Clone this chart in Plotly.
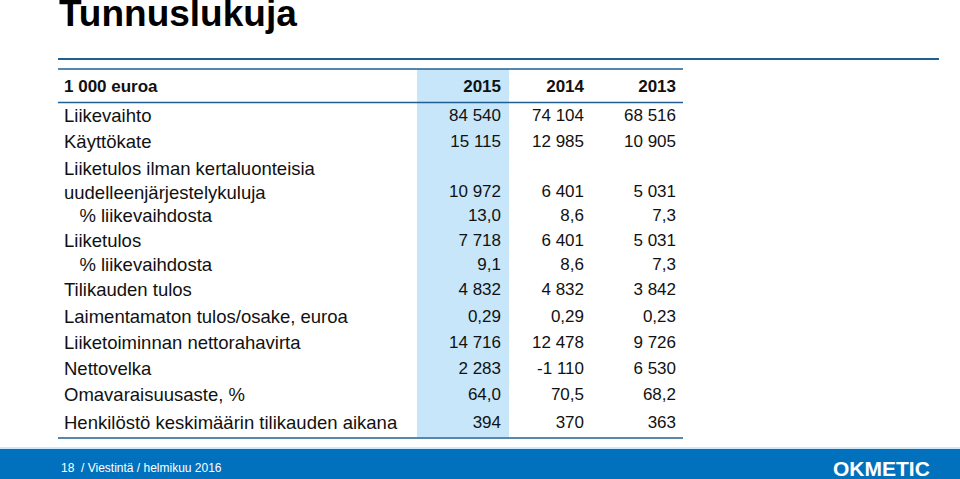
"""Key figures table slide (Tunnuslukuja) drawn with Plotly."""

import plotly.graph_objects as go

title = "Tunnuslukuja"
unit_label = "1 000 euroa"
years = ["2015", "2014", "2013"]

row_labels = [
    "Liikevaihto",
    "Käyttökate",
    "Liiketulos ilman kertaluonteisia<br>uudelleenjärjestelykuluja",
    "   % liikevaihdosta",
    "Liiketulos",
    "   % liikevaihdosta",
    "Tilikauden tulos",
    "Laimentamaton tulos/osake, euroa",
    "Liiketoiminnan nettorahavirta",
    "Nettovelka",
    "Omavaraisuusaste, %",
    "Henkilöstö keskimäärin tilikauden aikana",
]
values_2015 = ["84 540", "15 115", "10 972", "13,0", "7 718", "9,1", "4 832",
               "0,29", "14 716", "2 283", "64,0", "394"]
values_2014 = ["74 104", "12 985", "6 401", "8,6", "6 401", "8,6", "4 832",
               "0,29", "12 478", "-1 110", "70,5", "370"]
values_2013 = ["68 516", "10 905", "5 031", "7,3", "5 031", "7,3", "3 842",
               "0,23", "9 726", "6 530", "68,2", "363"]
footer = "18  / Viestintä / helmikuu 2016"
logo = "OKMETIC"

# layout (pixel space, y grows downward)
W, H = 960, 479
label_x = 64
col_right = [501, 584, 676]
dy = 2  # plotly sets "middle" text slightly high
header_y = 86 + dy
value_y = [y + dy for y in [115, 141, 191, 215, 240, 264, 289, 316, 342, 368, 394, 422]]
label_y = [y + dy for y in [115, 141, 180.5, 215, 240, 264, 289, 316, 342, 368, 394, 422]]

FONT = "Liberation Sans, Arial, sans-serif"
LINE = "#1f5f91"
HILITE = "#c7e6fa"
BAND = "#0271bd"

fig = go.Figure()

# row labels (the source renders them a bit wider than the numbers)
fig.add_trace(go.Scatter(
    x=[label_x] * len(row_labels), y=label_y, text=row_labels,
    mode="text", textposition="middle right",
    textfont=dict(family=FONT, size=18.5, color="#111111"),
    hoverinfo="skip", showlegend=False,
))

# value columns
for xr, vals in zip(col_right, [values_2015, values_2014, values_2013]):
    fig.add_trace(go.Scatter(
        x=[xr] * len(vals), y=value_y, text=vals,
        mode="text", textposition="middle left",
        textfont=dict(family=FONT, size=17, color="#111111"),
        hoverinfo="skip", showlegend=False,
    ))

# header row
fig.add_trace(go.Scatter(
    x=[label_x] + col_right, y=[header_y] * 4,
    text=[f"<b>{unit_label}</b>"] + [f"<b>{y}</b>" for y in years],
    mode="text",
    textposition=["middle right"] + ["middle left"] * 3,
    textfont=dict(family=FONT, size=17, color="#111111"),
    hoverinfo="skip", showlegend=False,
))

shapes = [
    # highlighted 2015 column
    dict(type="rect", x0=417, x1=509, y0=69, y1=437, fillcolor=HILITE,
         line_width=0, layer="below"),
    # long rule under title
    dict(type="line", x0=58, x1=939, y0=59, y1=59,
         line=dict(color=LINE, width=2)),
    # table rules
    dict(type="line", x0=58, x1=683, y0=69, y1=69,
         line=dict(color=LINE, width=1.5)),
    dict(type="line", x0=58, x1=683, y0=102.5, y1=102.5,
         line=dict(color=LINE, width=1.5)),
    dict(type="line", x0=58, x1=683, y0=438, y1=438,
         line=dict(color=LINE, width=1.5)),
    # footer band
    dict(type="rect", x0=0, x1=W, y0=449, y1=H, fillcolor=BAND,
         line_width=0, layer="below"),
    dict(type="line", x0=0, x1=W, y0=448, y1=448,
         line=dict(color="#9fd2f0", width=1)),
]

annotations = [
    dict(x=57, y=13, text=f"<b>{title}</b>", showarrow=False,
         xanchor="left", yanchor="middle",
         font=dict(family=FONT, size=37, color="#000000")),
    dict(x=59, y=468, text=footer, showarrow=False,
         xanchor="left", yanchor="middle",
         font=dict(family=FONT, size=12, color="#ffffff")),
    dict(x=881, y=468, text=f"<b>{logo}</b>", showarrow=False,
         xanchor="center", yanchor="middle",
         font=dict(family=FONT, size=21, color="#ffffff")),
]

fig.update_layout(
    width=W, height=H,
    margin=dict(l=0, r=0, t=0, b=0),
    paper_bgcolor="white", plot_bgcolor="white",
    xaxis=dict(range=[0, W], visible=False, fixedrange=True),
    yaxis=dict(range=[H, 0], visible=False, fixedrange=True),
    shapes=shapes, annotations=annotations,
)

fig.write_html(
    "out.html",
    config={"displayModeBar": False},
    post_script="document.body.style.margin='0';document.body.style.overflow='hidden';",
)
